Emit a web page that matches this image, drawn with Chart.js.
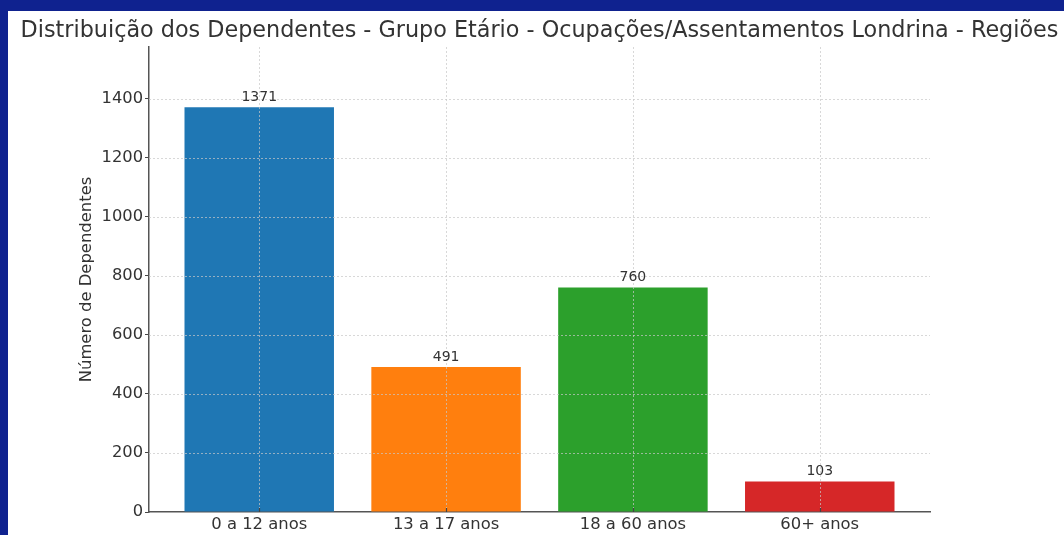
<!DOCTYPE html>
<html>
<head>
<meta charset="utf-8">
<script src="https://cdn.jsdelivr.net/npm/chart.js@4"></script>
<style>
  html, body { margin: 0; padding: 0; }
  body { width: 1064px; height: 535px; background: rgb(15, 34, 143); position: relative; overflow: hidden; }
  #panel { position: absolute; left: 8px; top: 11px; width: 1056px; height: 524px; background: #fff; }
</style>
</head>
<body>
<div id="panel"><canvas id="myChart" width="1056" height="524"></canvas></div>
<script>
// data
var categories = ['0 a 12 anos', '13 a 17 anos', '18 a 60 anos', '60+ anos'];
var dependentes = [1371, 491, 760, 103];
var barColors = ['#1f77b4', '#ff7f0e', '#2ca02c', '#d62728'];
var yTicks = [0, 200, 400, 600, 800, 1000, 1200, 1400];

var titleText = 'Distribuição dos Dependentes - Grupo Etário - Ocupações/Assentamentos Londrina - Regiões';

Chart.defaults.font.family = "'DejaVu Sans', sans-serif";
Chart.defaults.color = '#333';

// title centred over the plot area, like matplotlib does
var axesTitle = {
  id: 'axesTitle',
  afterDraw: function(chart) {
    var ctx = chart.ctx;
    var area = chart.chartArea;
    ctx.save();
    ctx.font = "22.3px 'DejaVu Sans'";
    ctx.fillStyle = '#333';
    ctx.textAlign = 'center';
    ctx.textBaseline = 'middle';
    ctx.fillText(titleText, (area.left + area.right) / 2, 20);
    ctx.restore();
  }
};

// dashed grid drawn on top of the bars (matplotlib style), plus x tick marks
var gridOnTop = {
  id: 'gridOnTop',
  afterDatasetsDraw: function(chart) {
    var ctx = chart.ctx;
    var area = chart.chartArea;
    var xs = chart.scales.x, ys = chart.scales.y;
    ctx.save();
    ctx.strokeStyle = 'rgba(200,200,200,0.7)';
    ctx.lineWidth = 1;
    ctx.setLineDash([2, 2]);
    ctx.beginPath();
    categories.forEach(function(c, i) {
      var px = Math.round(xs.getPixelForValue(i)) + 0.5;
      ctx.moveTo(px, area.top);
      ctx.lineTo(px, area.bottom);
    });
    yTicks.forEach(function(v) {
      if (v === 0) return;
      var py = Math.round(ys.getPixelForValue(v)) + 0.5;
      ctx.moveTo(area.left, py);
      ctx.lineTo(area.right, py);
    });
    ctx.stroke();

    // short dark ticks on the x axis
    ctx.setLineDash([]);
    ctx.strokeStyle = '#444';
    ctx.lineWidth = 1.2;
    ctx.beginPath();
    categories.forEach(function(c, i) {
      var px = Math.round(xs.getPixelForValue(i)) + 0.5;
      ctx.moveTo(px, area.bottom);
      ctx.lineTo(px, area.bottom - 4);
    });
    ctx.stroke();
    ctx.restore();
  }
};

// value on top of each bar
var barValues = {
  id: 'barValues',
  afterDatasetsDraw: function(chart) {
    var ctx = chart.ctx;
    var meta = chart.getDatasetMeta(0);
    ctx.save();
    ctx.font = "14px 'DejaVu Sans'";
    ctx.fillStyle = '#333';
    ctx.textAlign = 'center';
    ctx.textBaseline = 'bottom';
    meta.data.forEach(function(bar, i) {
      ctx.fillText(String(dependentes[i]), bar.x, bar.y - 3);
    });
    ctx.restore();
  }
};

var ctx = document.getElementById('myChart').getContext('2d');
var chart = new Chart(ctx, {
  type: 'bar',
  data: {
    datasets: [{
      data: dependentes.map(function(v, i) { return {x: i, y: v}; }),
      backgroundColor: barColors,
      borderWidth: 0,
      barPercentage: 0.8,
      categoryPercentage: 1.0
    }]
  },
  options: {
    responsive: false,
    animation: false,
    devicePixelRatio: 1,
    layout: { padding: { top: 36, right: 134, left: 0, bottom: 0 } },
    plugins: {
      legend: { display: false },
      tooltip: { enabled: false }
    },
    scales: {
      x: {
        type: 'linear',
        offset: false,
        min: -0.59,
        max: 3.59,
        afterBuildTicks: function(scale) {
          scale.ticks = categories.map(function(c, i) { return {value: i}; });
        },
        afterFit: function(scale) { scale.height = 23; },
        ticks: {
          font: { size: 16.4 },
          color: '#333',
          padding: 3,
          maxRotation: 0,
          callback: function(v) { return categories[v]; }
        },
        grid: {
          offset: false,
          drawOnChartArea: false,
          drawTicks: false
        },
        border: { color: '#555', width: 1.5 }
      },
      y: {
        min: 0,
        max: 1575,
        afterBuildTicks: function(scale) {
          scale.ticks = yTicks.map(function(v) { return {value: v}; });
        },
        afterFit: function(scale) { scale.width = 141; },
        title: {
          display: true,
          text: 'Número de Dependentes',
          font: { size: 16.4 },
          color: '#333',
          padding: { top: 69, bottom: 0 }
        },
        ticks: {
          font: { size: 16.3 },
          color: '#333',
          padding: 2,
          callback: function(v) { return String(v); }
        },
        grid: {
          drawOnChartArea: false,
          tickColor: '#444',
          tickLength: 4
        },
        border: { color: '#555', width: 1.5 }
      }
    }
  },
  plugins: [gridOnTop, barValues, axesTitle]
});
</script>
</body>
</html>
